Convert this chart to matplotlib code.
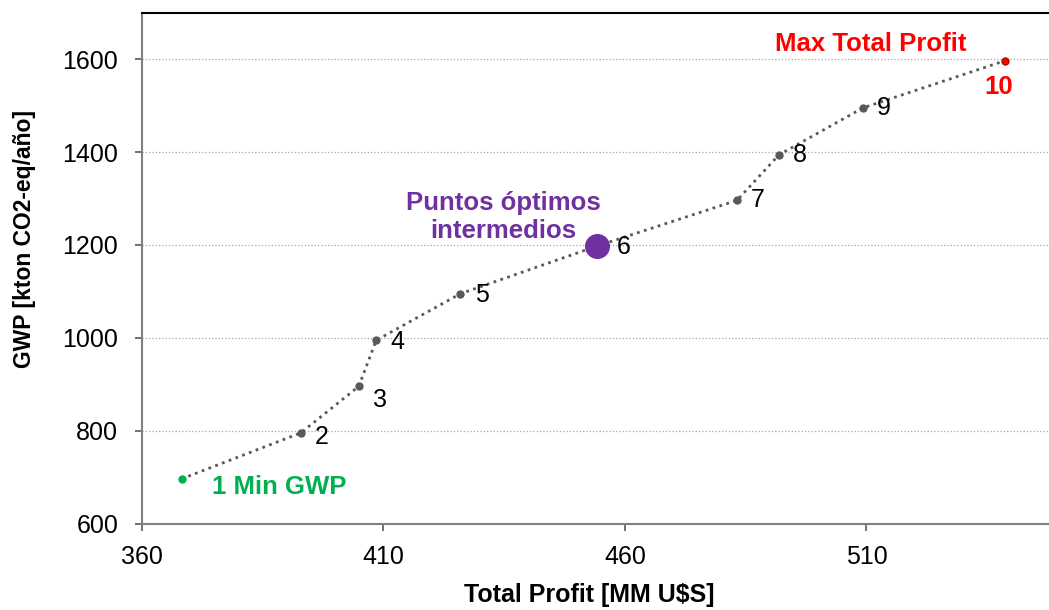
import matplotlib.pyplot as plt

# --- datos de la frontera de Pareto ---
puntos = ['1', '2', '3', '4', '5', '6', '7', '8', '9', '10']
profit = [368.2, 392.9, 404.9, 408.5, 425.9, 454.3, 483.2, 491.9, 509.3, 538.6]
gwp = [697, 796, 896, 995, 1095, 1198, 1296, 1394, 1495, 1596]

x_ticks = [360, 410, 460, 510]
y_ticks = [600, 800, 1000, 1200, 1400, 1600]

plt.rcParams['font.family'] = ['Liberation Sans', 'DejaVu Sans']

gris = '#595959'
verde = '#00B050'
rojo = '#FF0000'
morado = '#7030A0'

fig = plt.figure(figsize=(10.49, 6.10), dpi=100)
ax = fig.add_axes([0.1353, 0.141, 0.8647, 0.8385])

# linea punteada entre puntos
ax.plot(profit, gwp, linestyle=(0, (1, 1.6)), color=gris, lw=2, zorder=2)

# marcadores
ax.plot(profit[1:9], gwp[1:9], 'o', color=gris, ms=5, zorder=3)
ax.plot(profit[0], gwp[0], 'o', color=verde, ms=5, zorder=3)
ax.plot(profit[9], gwp[9], 'o', color=rojo, mec='#C00000', ms=5, zorder=3)
ax.plot(profit[5], gwp[5], 'o', color=morado, ms=17, zorder=4)

# etiquetas de los puntos (desplazamiento en puntos)
offsets = {1: (10, -3), 2: (10, -10), 3: (10, -1), 4: (11, -1), 5: (14, -1),
           6: (10, 0), 7: (10, 0), 8: (10, 0)}
for i, (x, y) in enumerate(zip(profit, gwp)):
    if i in offsets:
        ax.annotate(puntos[i], (x, y), xytext=offsets[i], textcoords='offset points',
                    ha='left', va='center', fontsize=18, color='black')

ax.annotate('1 Min GWP', (profit[0], gwp[0]), xytext=(22, -6), textcoords='offset points',
            ha='left', va='center', fontsize=18.5, fontweight='bold', color=verde)
ax.annotate(puntos[9], (profit[9], gwp[9]), xytext=(-4, -19), textcoords='offset points',
            ha='center', va='center', fontsize=18.5, fontweight='bold', color=rojo)
ax.annotate('Max Total Profit', (profit[9], gwp[9]), xytext=(-96, 12), textcoords='offset points',
            ha='center', va='center', fontsize=18.5, fontweight='bold', color=rojo)
ax.annotate('Puntos óptimos\nintermedios', (profit[5], gwp[5]), xytext=(-68, 21),
            textcoords='offset points', ha='center', va='center', fontsize=18.5,
            fontweight='bold', color=morado, linespacing=1.2)

# ejes
ax.set_xlim(360, 547.8)
ax.set_ylim(600, 1700)
ax.set_xticks(x_ticks)
ax.set_yticks(y_ticks)
ax.tick_params(axis='both', labelsize=18, colors=gris, labelcolor='black', length=5, width=1.2)
ax.tick_params(axis='y', pad=12)
ax.tick_params(axis='x', pad=10)

ax.grid(axis='y', linestyle=':', color='#a6a6a6', lw=0.9)
ax.set_axisbelow(True)

ax.spines['right'].set_visible(False)
ax.spines['top'].set_color('black')
ax.spines['top'].set_linewidth(1.5)
for s in ['left', 'bottom']:
    ax.spines[s].set_color('#808080')
    ax.spines[s].set_linewidth(1.5)

ax.set_xlabel('Total Profit [MM U$S]', fontsize=18, fontweight='bold')
ax.set_ylabel('GWP [kton CO2-eq/año]', fontsize=16.5, fontweight='bold')
ax.xaxis.set_label_coords(0.493, -0.139)
ax.yaxis.set_label_coords(-0.129, 0.557)
ax.xaxis.label.set_va('center')
ax.yaxis.label.set_va('center')

fig.savefig('out.png', dpi=100)
